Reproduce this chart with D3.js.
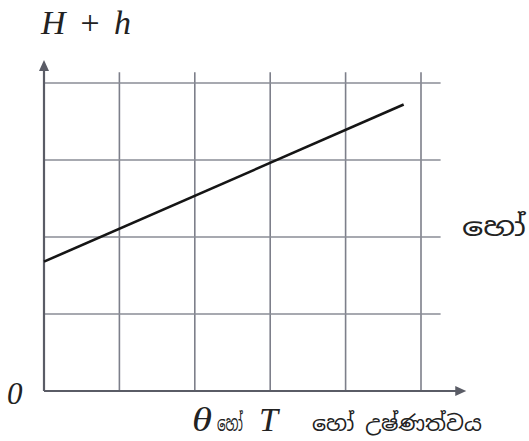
<!DOCTYPE html>
<html>
<head>
<meta charset="utf-8">
<script src="https://cdn.jsdelivr.net/npm/d3@7"></script>
<style>
  body { margin: 0; background: #fff; }
  .serif { font-family: "Liberation Serif", "DejaVu Serif", serif; font-style: italic; }
  .sin { font-family: "Noto Sans Sinhala", "Noto Serif Sinhala", "Iskoola Pota", sans-serif; }
</style>
</head>
<body>
<div id="chart"></div>
<script>
// grid positions (in grid units) and the straight line
var xGrid = [1, 2, 3, 4, 5];
var yGrid = [1, 2, 3, 4];
var lineX = [0, 4.77];
var lineY = [1.68, 3.72];

var width = 529, height = 441;
var svg = d3.select("#chart").append("svg")
    .attr("width", width)
    .attr("height", height);

var x = d3.scaleLinear().domain([0, 5]).range([44, 421]);
var y = d3.scaleLinear().domain([0, 4]).range([391, 83]);

var g = svg.append("g");

// vertical grid lines
g.selectAll(".vgrid")
    .data(xGrid)
    .enter().append("line")
    .attr("class", "vgrid")
    .attr("x1", function(d) { return x(d); })
    .attr("x2", function(d) { return x(d); })
    .attr("y1", y(4.14))
    .attr("y2", y(0))
    .attr("stroke", "#7d7f8a")
    .attr("stroke-width", 1.6);

// horizontal grid lines
g.selectAll(".hgrid")
    .data(yGrid)
    .enter().append("line")
    .attr("class", "hgrid")
    .attr("x1", x(0))
    .attr("x2", x(5.26))
    .attr("y1", function(d) { return y(d); })
    .attr("y2", function(d) { return y(d); })
    .attr("stroke", "#8a8c96")
    .attr("stroke-width", 1.6);

// axes
g.append("line")
    .attr("x1", x(0)).attr("x2", x(0))
    .attr("y1", y(0)).attr("y2", y(4.2))
    .attr("stroke", "#5a5c66").attr("stroke-width", 2.2);
g.append("line")
    .attr("x1", x(0)).attr("x2", x(5.55))
    .attr("y1", y(0)).attr("y2", y(0))
    .attr("stroke", "#5a5c66").attr("stroke-width", 2.2);

// arrow heads
var ax = x(0), ay = y(4.3);
g.append("path")
    .attr("d", "M" + ax + "," + ay + "L" + (ax - 5) + "," + (ay + 11) + "L" + (ax + 5) + "," + (ay + 11) + "Z")
    .attr("fill", "#5a5c66");
var bx = x(5.6), by = y(0);
g.append("path")
    .attr("d", "M" + bx + "," + by + "L" + (bx - 11) + "," + (by - 5) + "L" + (bx - 11) + "," + (by + 5) + "Z")
    .attr("fill", "#5a5c66");

// data line
g.append("path")
    .datum(d3.zip(lineX, lineY))
    .attr("d", d3.line()
        .x(function(d) { return x(d[0]); })
        .y(function(d) { return y(d[1]); }))
    .attr("fill", "none")
    .attr("stroke", "#151515")
    .attr("stroke-width", 2.6);

// labels
svg.append("text")
    .attr("class", "serif")
    .attr("x", 41).attr("y", 34)
    .attr("font-size", 34)
    .attr("fill", "#222")
    .attr("textLength", 90)
    .text("H + h");

svg.append("text")
    .attr("class", "serif")
    .attr("x", 7).attr("y", 404)
    .attr("font-size", 31)
    .attr("fill", "#222")
    .text("0");

function put(txt, cls, size, x0, len) {
    svg.append("text")
        .attr("class", cls)
        .attr("x", x0).attr("y", 431)
        .attr("font-size", size)
        .attr("fill", "#222")
        .attr("textLength", len)
        .attr("lengthAdjust", "spacingAndGlyphs")
        .text(txt);
}
put("θ", "serif", 33, 192, 20);
put("හෝ", "sin", 21, 217, 26);
put("T", "serif", 33, 259, 19);
put("හෝ උෂ්ණත්වය", "sin", 21, 312, 170);

svg.append("text")
    .attr("class", "sin")
    .attr("x", 462).attr("y", 236)
    .attr("font-size", 26)
    .attr("fill", "#222")
    .attr("textLength", 64)
    .attr("lengthAdjust", "spacingAndGlyphs")
    .text("හෝ");
</script>
</body>
</html>
